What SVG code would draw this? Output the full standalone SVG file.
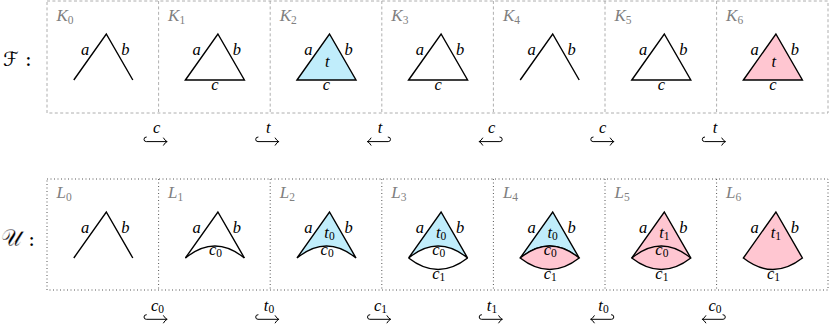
<svg xmlns="http://www.w3.org/2000/svg" xmlns:xlink="http://www.w3.org/1999/xlink" width="830" height="327" viewBox="0 0 830 327">
<style>
.fr{fill:none;stroke:#9a9a9a;stroke-width:0.8;stroke-dasharray:3 2.4}
.fd{fill:none;stroke:#555;stroke-width:1;stroke-dasharray:1 2.5}
.e{fill:none;stroke:#000;stroke-width:1.4;stroke-linejoin:miter}
.ef{stroke:#000;stroke-width:1.4;stroke-linejoin:miter}
.blue{fill:#C0EDFB}
.pink{fill:#FFC6D1}
.m{font-family:"Liberation Serif",serif;font-style:italic;font-size:16.5px;fill:#000}
.mid{text-anchor:middle}
.gl{font-family:"Liberation Serif",serif;font-style:italic;font-size:17px;fill:#808080}
.s{font-style:normal;font-size:11.5px}
.row{font-family:"DejaVu Serif","DejaVu Sans",serif;font-size:20px;fill:#000}
.big{font-size:23px;stroke:#fff;stroke-width:0.35}
.ar{fill:none;stroke:#000;stroke-width:1;stroke-linecap:round}
</style>
<defs>
<g id="hr"><path class="ar" d="M-9.2,-4.6 A2.3,2.3 0 0 0 -9.2,0 L11.5,0 M8,-3.6 Q9.6,-0.9 11.5,0 Q9.6,0.9 8,3.6"/></g>
</defs>

<g id="frames">
<path class="fr" d="M47,1 H828 V113 H47 Z M158.6,1 V113 M270.2,1 V113 M381.8,1 V113 M493.4,1 V113 M605,1 V113 M716.6,1 V113"/>
<path class="fd" d="M47,179 H828 V290 H47 Z M158.6,179 V290 M270.2,179 V290 M381.8,179 V290 M493.4,179 V290 M605,179 V290 M716.6,179 V290"/>
</g>

<g id="rowlabels">
<text class="row" x="3" y="66">ℱ :</text>
<text class="row" x="1" y="246"><tspan class="big">𝒰</tspan> :</text>
</g>

<!-- top row -->
<g id="K0">
<text class="gl" x="56.5" y="21">K<tspan class="s" dy="3">0</tspan></text>
<polyline class="e" points="73.8,80 106.3,34 132.8,80"/>
<text class="m mid" x="85" y="55">a</text><text class="m mid" x="125.3" y="55">b</text>
</g>
<g id="K1">
<text class="gl" x="168.1" y="21">K<tspan class="s" dy="3">1</tspan></text>
<polygon class="e" points="185.4,80 217.9,34 244.4,80"/>
<text class="m mid" x="196.7" y="55">a</text><text class="m mid" x="236.9" y="55">b</text><text class="m mid" x="214.9" y="90">c</text>
</g>
<g id="K2">
<text class="gl" x="279.7" y="21">K<tspan class="s" dy="3">2</tspan></text>
<polygon class="ef blue" points="297,80 329.5,34 356,80"/>
<text class="m mid" x="308.3" y="55">a</text><text class="m mid" x="348.5" y="55">b</text><text class="m mid" x="326.5" y="90">c</text><text class="m mid" x="327.3" y="67">t</text>
</g>
<g id="K3">
<text class="gl" x="391.3" y="21">K<tspan class="s" dy="3">3</tspan></text>
<polygon class="e" points="408.6,80 441.1,34 467.6,80"/>
<text class="m mid" x="419.9" y="55">a</text><text class="m mid" x="460.1" y="55">b</text><text class="m mid" x="438.1" y="90">c</text>
</g>
<g id="K4">
<text class="gl" x="502.9" y="21">K<tspan class="s" dy="3">4</tspan></text>
<polyline class="e" points="520.2,80 552.7,34 579.2,80"/>
<text class="m mid" x="531.5" y="55">a</text><text class="m mid" x="571.7" y="55">b</text>
</g>
<g id="K5">
<text class="gl" x="614.5" y="21">K<tspan class="s" dy="3">5</tspan></text>
<polygon class="e" points="631.8,80 664.3,34 690.8,80"/>
<text class="m mid" x="643.1" y="55">a</text><text class="m mid" x="683.3" y="55">b</text><text class="m mid" x="661.3" y="90">c</text>
</g>
<g id="K6">
<text class="gl" x="726.1" y="21">K<tspan class="s" dy="3">6</tspan></text>
<polygon class="ef pink" points="743.4,80 775.9,34 802.4,80"/>
<text class="m mid" x="754.7" y="55">a</text><text class="m mid" x="794.9" y="55">b</text><text class="m mid" x="772.9" y="90">c</text><text class="m mid" x="773.7" y="67">t</text>
</g>

<!-- bottom row -->
<g id="L0">
<text class="gl" x="56.5" y="198">L<tspan class="s" dy="3">0</tspan></text>
<polyline class="e" points="73.8,258 106.3,212 132.8,258"/>
<text class="m mid" x="85" y="233">a</text><text class="m mid" x="125.3" y="233">b</text>
</g>
<g id="L1">
<text class="gl" x="168.1" y="198">L<tspan class="s" dy="3">1</tspan></text>
<polyline class="e" points="185.4,258 217.9,212 244.4,258"/>
<path class="e" d="M185.4,258 Q214.9,234 244.4,258"/>
<text class="m mid" x="196.7" y="233">a</text><text class="m mid" x="236.9" y="233">b</text>
<text class="m mid" x="215.5" y="255">c<tspan class="s" dy="2">0</tspan></text>
</g>
<g id="L2">
<text class="gl" x="279.7" y="198">L<tspan class="s" dy="3">2</tspan></text>
<path class="ef blue" d="M297,258 L329.5,212 L356,258 Q326.5,234 297,258 Z"/>
<text class="m mid" x="308.3" y="233">a</text><text class="m mid" x="348.5" y="233">b</text>
<text class="m mid" x="329.5" y="238">t<tspan class="s" dy="2">0</tspan></text>
<text class="m mid" x="327.1" y="255">c<tspan class="s" dy="2">0</tspan></text>
</g>
<g id="L3">
<text class="gl" x="391.3" y="198">L<tspan class="s" dy="3">3</tspan></text>
<path class="ef blue" d="M408.6,258 L441.1,212 L467.6,258 Q438.1,234 408.6,258 Z"/>
<path class="e" d="M408.6,258 Q438.1,281 467.6,258"/>
<text class="m mid" x="419.9" y="233">a</text><text class="m mid" x="460.1" y="233">b</text>
<text class="m mid" x="441.1" y="238">t<tspan class="s" dy="2">0</tspan></text>
<text class="m mid" x="438.7" y="255">c<tspan class="s" dy="2">0</tspan></text>
<text class="m mid" x="438.7" y="279">c<tspan class="s" dy="2">1</tspan></text>
</g>
<g id="L4">
<text class="gl" x="502.9" y="198">L<tspan class="s" dy="3">4</tspan></text>
<path class="ef blue" d="M520.2,258 L552.7,212 L579.2,258 Q549.7,234 520.2,258 Z"/>
<path class="ef pink" d="M520.2,258 Q549.7,234 579.2,258 Q549.7,281 520.2,258 Z"/>
<text class="m mid" x="531.5" y="233">a</text><text class="m mid" x="571.7" y="233">b</text>
<text class="m mid" x="552.7" y="238">t<tspan class="s" dy="2">0</tspan></text>
<text class="m mid" x="550.3" y="255">c<tspan class="s" dy="2">0</tspan></text>
<text class="m mid" x="550.3" y="279">c<tspan class="s" dy="2">1</tspan></text>
</g>
<g id="L5">
<text class="gl" x="614.5" y="198">L<tspan class="s" dy="3">5</tspan></text>
<path class="ef pink" d="M631.8,258 L664.3,212 L690.8,258 Q661.3,281 631.8,258 Z"/>
<path class="e" d="M631.8,258 Q661.3,234 690.8,258"/>
<text class="m mid" x="643.1" y="233">a</text><text class="m mid" x="683.3" y="233">b</text>
<text class="m mid" x="664.3" y="238">t<tspan class="s" dy="2">1</tspan></text>
<text class="m mid" x="661.9" y="255">c<tspan class="s" dy="2">0</tspan></text>
<text class="m mid" x="661.9" y="279">c<tspan class="s" dy="2">1</tspan></text>
</g>
<g id="L6">
<text class="gl" x="726.1" y="198">L<tspan class="s" dy="3">6</tspan></text>
<path class="ef pink" d="M743.4,258 L775.9,212 L802.4,258 Q772.9,281 743.4,258 Z"/>
<text class="m mid" x="754.7" y="233">a</text><text class="m mid" x="794.9" y="233">b</text>
<text class="m mid" x="775.9" y="238">t<tspan class="s" dy="2">1</tspan></text>
<text class="m mid" x="773.5" y="279">c<tspan class="s" dy="2">1</tspan></text>
</g>

<g id="connectors">
<use xlink:href="#hr" transform="translate(155.5,141.6)"/>
<use xlink:href="#hr" transform="translate(267.2,141.6)"/>
<use xlink:href="#hr" transform="translate(379,141.6) scale(-1,1)"/>
<use xlink:href="#hr" transform="translate(490.7,141.6) scale(-1,1)"/>
<use xlink:href="#hr" transform="translate(602.3,141.6)"/>
<use xlink:href="#hr" transform="translate(713.8,141.6)"/>
<text class="m mid" x="156.7" y="133">c</text>
<text class="m mid" x="268.3" y="133">t</text>
<text class="m mid" x="380" y="133">t</text>
<text class="m mid" x="491.7" y="133">c</text>
<text class="m mid" x="602.7" y="133">c</text>
<text class="m mid" x="715" y="133">t</text>
<use xlink:href="#hr" transform="translate(155.5,319.3)"/>
<use xlink:href="#hr" transform="translate(267.2,319.3)"/>
<use xlink:href="#hr" transform="translate(379,319.3)"/>
<use xlink:href="#hr" transform="translate(490.7,319.3)"/>
<use xlink:href="#hr" transform="translate(602.3,319.3) scale(-1,1)"/>
<use xlink:href="#hr" transform="translate(713.8,319.3) scale(-1,1)"/>
<text class="m mid" x="157.5" y="311">c<tspan class="s" dy="2">0</tspan></text>
<text class="m mid" x="269" y="311">t<tspan class="s" dy="2">0</tspan></text>
<text class="m mid" x="380.5" y="311">c<tspan class="s" dy="2">1</tspan></text>
<text class="m mid" x="492" y="311">t<tspan class="s" dy="2">1</tspan></text>
<text class="m mid" x="603.5" y="311">t<tspan class="s" dy="2">0</tspan></text>
<text class="m mid" x="715" y="311">c<tspan class="s" dy="2">0</tspan></text>
</g>
</svg>
